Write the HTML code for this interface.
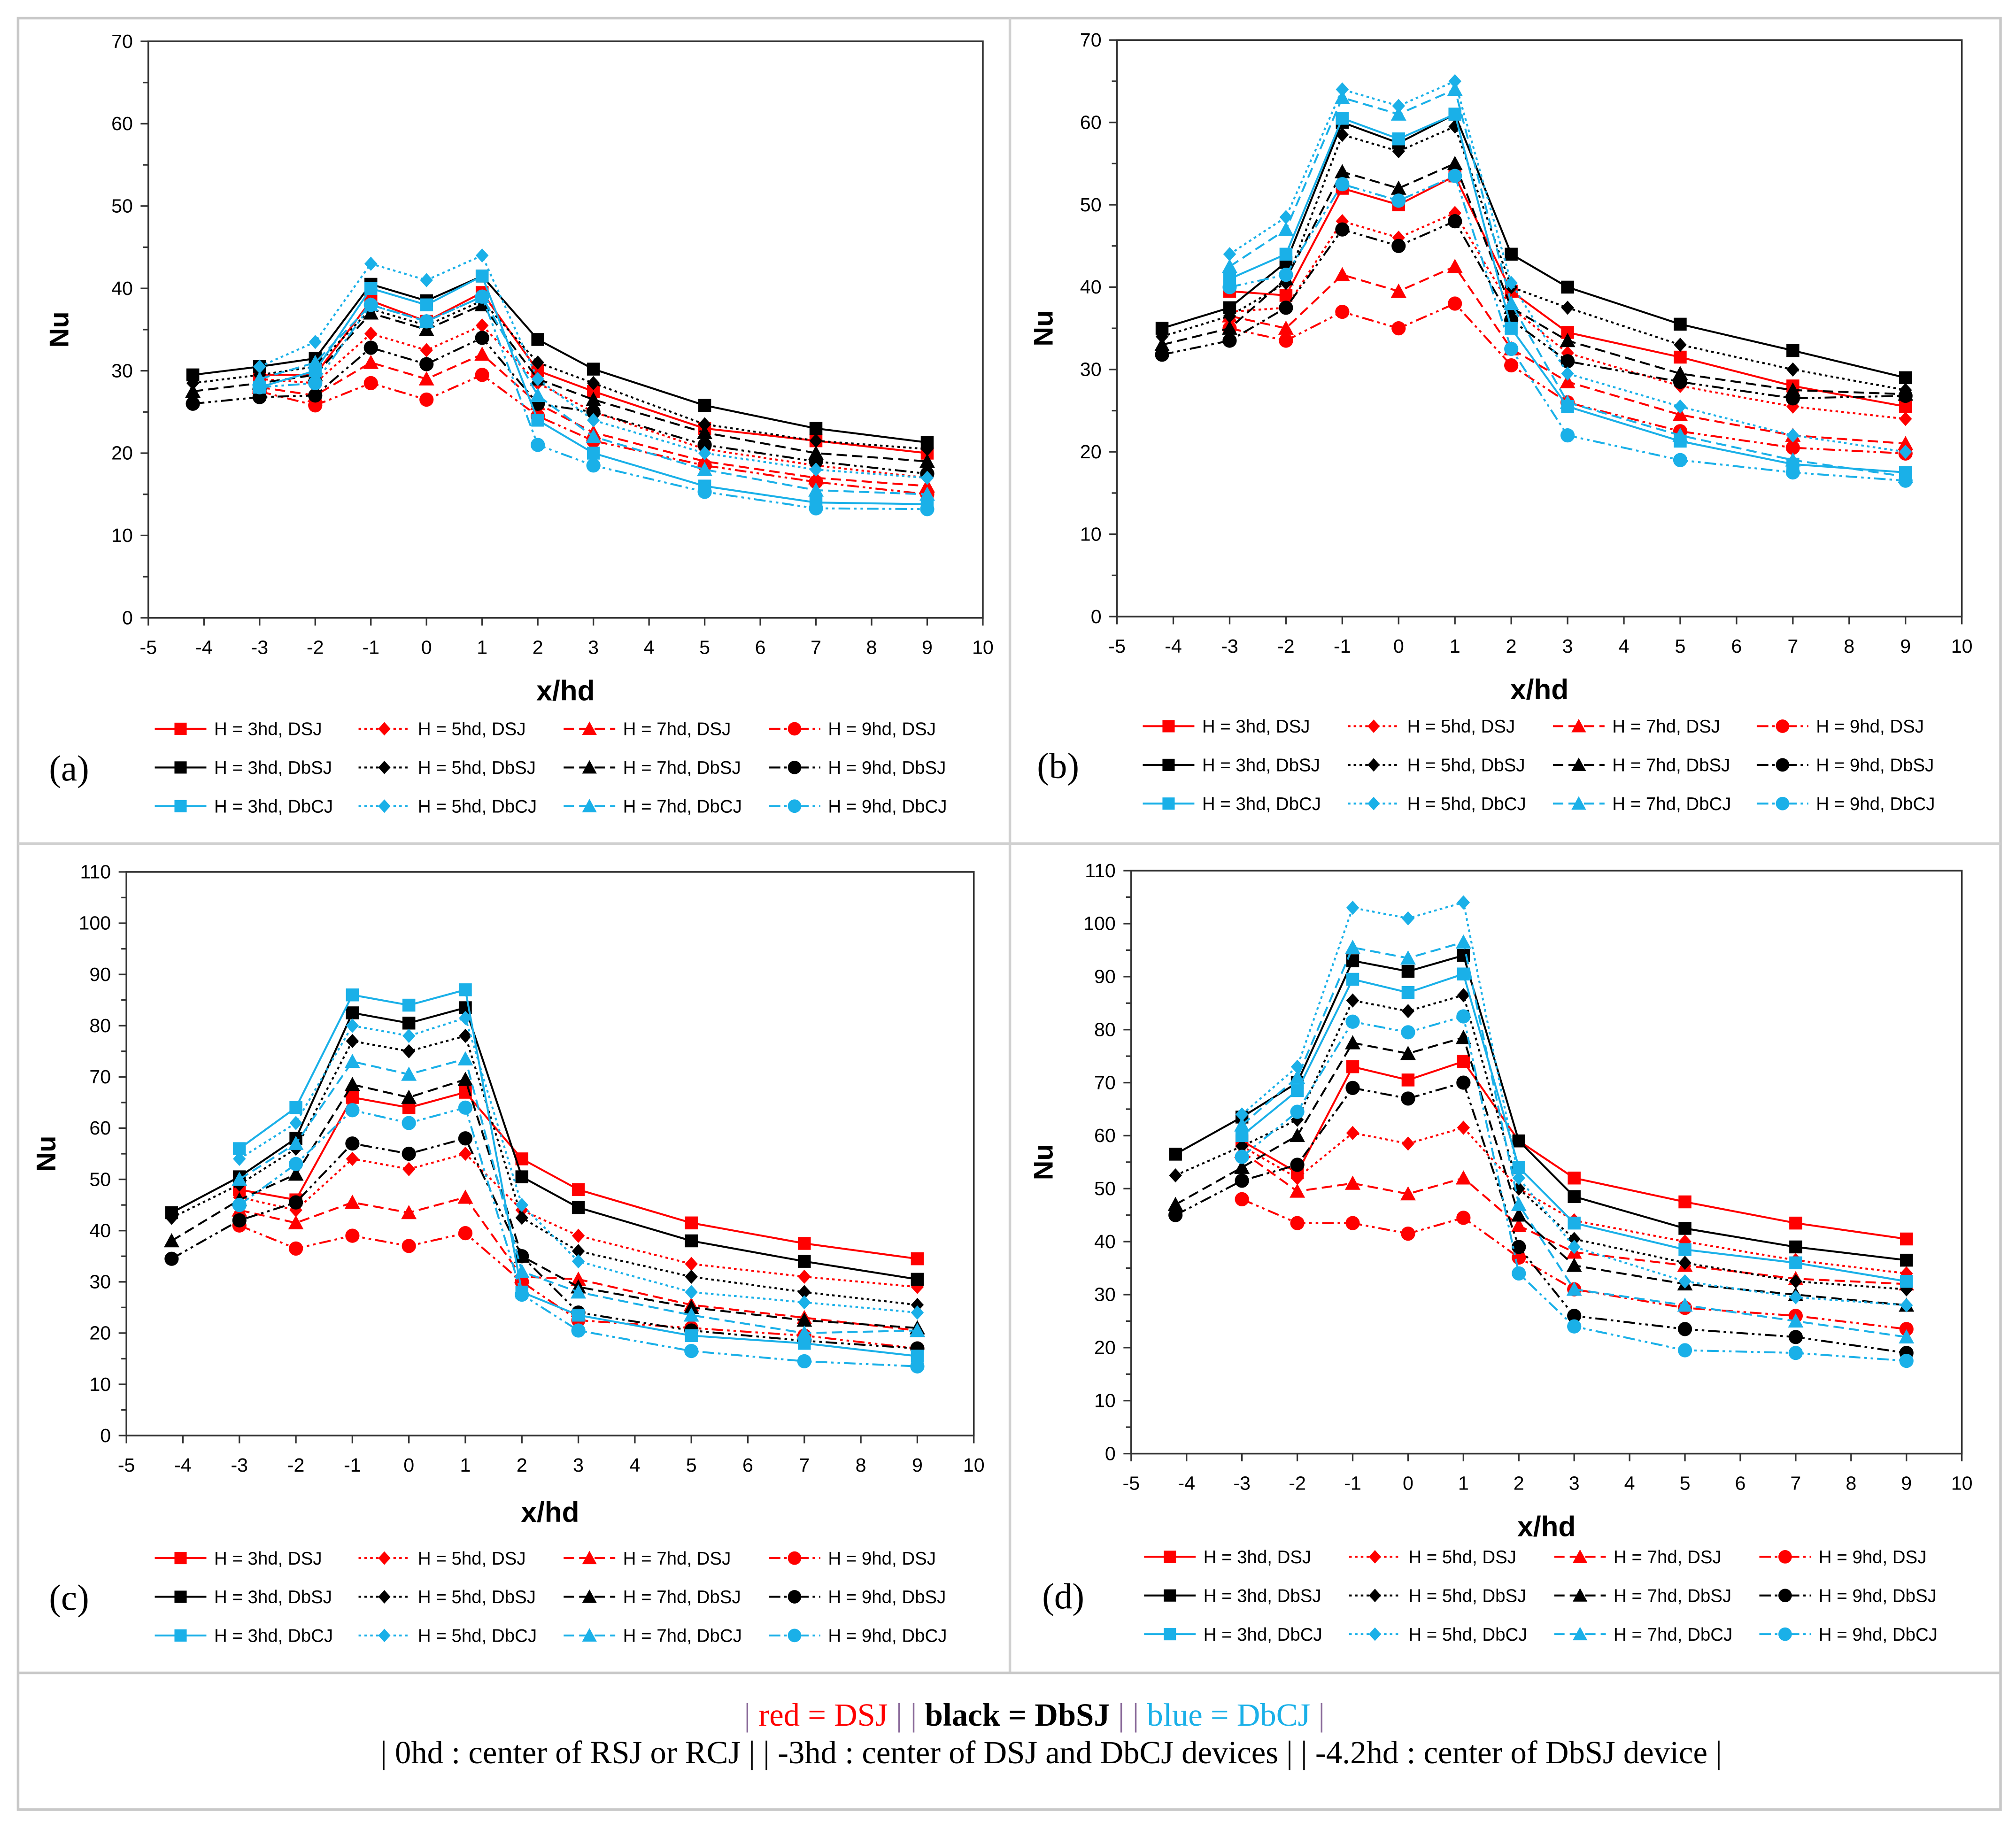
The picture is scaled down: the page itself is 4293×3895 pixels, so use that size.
<!DOCTYPE html>
<html><head><meta charset="utf-8"><style>
html,body{margin:0;padding:0;background:#fff}
svg{display:block}
text{font-family:"Liberation Sans",sans-serif}
.serif{font-family:"Liberation Serif",serif}
</style></head><body>
<svg id="fig" width="4293" height="3895" viewBox="0 0 1563 1418" xmlns="http://www.w3.org/2000/svg">
<rect x="0" y="0" width="1563" height="1418" fill="#fff"/>
<rect x="14" y="14" width="1537" height="1389" fill="none" stroke="#c8c8c8" stroke-width="2"/>
<line x1="783" y1="14" x2="783" y2="1297" stroke="#d0d0d0" stroke-width="2"/>
<line x1="14" y1="654" x2="1551" y2="654" stroke="#d0d0d0" stroke-width="2"/>
<line x1="14" y1="1297" x2="1551" y2="1297" stroke="#c8c8c8" stroke-width="2"/>
<g id="note">
<text class="serif" x="802" y="1338" text-anchor="middle" font-size="25"><tspan fill="#8a6a9a">| </tspan><tspan fill="#ff0000">red = DSJ</tspan><tspan fill="#8a6a9a"> | | </tspan><tspan font-weight="bold" fill="#000">black = DbSJ</tspan><tspan fill="#8a6a9a"> | | </tspan><tspan fill="#1ab0e8">blue = DbCJ</tspan><tspan fill="#8a6a9a"> |</tspan></text>
<text class="serif" x="815" y="1367" text-anchor="middle" font-size="25" fill="#000">| 0hd : center of RSJ or RCJ | | -3hd : center of DSJ and DbCJ devices | | -4.2hd : center of DbSJ device |</text>
</g>
</svg>
<script>
const xsShort=[-3,-2,-1,0,1,2,3,5,7,9];
const xsLong=[-4.2,-3,-2,-1,0,1,2,3,5,7,9];
const seriesNames=["3hd","5hd","7hd","9hd"];
// Panel (a)
const aDSJ=[[29.5,29.5,38.5,36,39.5,30,27.5,23,21.5,20],[29,28.5,34.5,32.5,35.5,28.5,25,20.5,18.5,17],[28,27,31,29,32,26,22.5,19,17,16],[27.5,25.8,28.5,26.5,29.5,24.5,21.5,18.5,16.5,15]];
const aDbSJ=[[29.5,30.5,31.5,40.5,38.5,41.5,33.8,30.2,25.8,23,21.3],[28.5,29.5,30.5,37.5,35.5,38.5,31,28.5,23.5,21.5,20.5],[27.5,28.5,29.5,37,35,38,29,26.5,22.5,20,19],[26,26.8,27,32.8,30.8,34,26,25,21,19,17.5]];
const aDbCJ=[[28,30,40,38,41.5,24,20,16,14,13.8],[30.5,33.5,43,41,44,29,24,20,18,17],[29,31,38,36,39,27,22,18,15.5,15],[28,28.5,38,36,39,21,18.5,15.3,13.3,13.2]];
// Panel (b)
const bDSJ=[[39.5,39,52,50,53.5,39.5,34.5,31.5,28,25.5],[37,37.5,48,46,49,37.5,32,28,25.5,24],[36.5,35,41.5,39.5,42.5,32.5,28.5,24.5,22,21],[35,33.5,37,35,38,30.5,26,22.5,20.5,19.8]];
const bDbSJ=[[35,37.5,43,60,57.5,61,44,40,35.5,32.3,29],[34,36.5,40.5,58.5,56.5,59.5,40,37.5,33,30,27.5],[33,35,41,54,52,55,37.5,33.5,29.5,27.5,27],[31.8,33.5,37.5,47,45,48,36,31,28.5,26.5,26.8]];
const bDbCJ=[[41,44,60.5,58,61,35,25.5,21.3,18.5,17.5],[44,48.5,64,62,65,40.5,29.5,25.5,22,20],[42.5,47,63,61,64,38,26,22,19,17],[40,41.5,52.5,50.5,53.5,32.5,22,19,17.5,16.5]];
// Panel (c)
const cDSJ=[[48,46,66,64,67,54,48,41.5,37.5,34.5],[46.5,44,54,52,55,44,39,33.5,31,29],[44,41.5,45.5,43.5,46.5,31,30.5,25.5,23,20.5],[41,36.5,39,37,39.5,30,22.5,21,19.5,17]];
const cDbSJ=[[43.5,50.5,58,82.5,80.5,83.5,50.5,44.5,38,34,30.5],[42.5,49,56,77,75,78,42.5,36,31,28,25.5],[38,46,51,68.5,66,69.5,35,29,25,22.5,21],[34.5,42,45.5,57,55,58,35,24,20.5,18.5,17]];
const cDbCJ=[[56,64,86,84,87,28,23.5,19.5,18,15.5],[54,61,80,78,81.5,45,34,28,26,24],[50,57,73,70.5,73.5,32,28,23.5,20,20.5],[45,53,63.5,61,64,27.5,20.5,16.5,14.5,13.5]];
// Panel (d)
const dDSJ=[[59,53,73,70.5,74,59,52,47.5,43.5,40.5],[58,52,60.5,58.5,61.5,50,44,40,36.5,34],[57,49.5,51,49,52,43,38,35.5,33,32],[48,43.5,43.5,41.5,44.5,37,31,27.5,26,23.5]];
const dDbSJ=[[56.5,63.5,70,93,91,94,59,48.5,42.5,39,36.5],[52.5,58,63,85.5,83.5,86.5,50,40.5,36,32.5,31],[47,54,60,77.5,75.5,78.5,45,35.5,32,30,28],[45,51.5,54.5,69,67,70,39,26,23.5,22,19]];
const dDbCJ=[[60,68.5,89.5,87,90.5,54,43.5,38.5,36,32.5],[64,73,103,101,104,52,39,32.5,29.5,28],[62,71,95.5,93.5,96.5,47,31,28,25,22],[56,64.5,81.5,79.5,82.5,34,24,19.5,19,17.5]];
const xTicks=[-5,-4,-3,-2,-1,0,1,2,3,4,5,6,7,8,9,10];
const yTicks70=[0,10,20,30,40,50,60,70];
const yTicks110=[0,10,20,30,40,50,60,70,80,90,100,110];

const NS="http://www.w3.org/2000/svg";
const svg=document.getElementById('fig');
const RED="#ff0000",BLK="#000000",BLU="#1ab0e8";
const dashes=["", "2,2.5", "8,4", "9,3,2,3,2,3"];
const markers=["square","diamond","triangle","circle"];
function mk(tag,attrs,parent){const e=document.createElementNS(NS,tag);for(const k in attrs)e.setAttribute(k,attrs[k]);(parent||svg).appendChild(e);return e;}
function marker(g,shape,x,y,c,s){
  s=s||1;
  if(shape==="square")return mk('rect',{x:x-5*s,y:y-5*s,width:10*s,height:10*s,fill:c},g);
  if(shape==="diamond")return mk('polygon',{points:`${x},${y-5.5*s} ${x+5*s},${y} ${x},${y+5.5*s} ${x-5*s},${y}`,fill:c},g);
  if(shape==="triangle")return mk('polygon',{points:`${x},${y-6*s} ${x+6*s},${y+5*s} ${x-6*s},${y+5*s}`,fill:c},g);
  return mk('circle',{cx:x,cy:y,r:5.5*s,fill:c},g);
}
function panel(id,P){
  const g=mk('g',{});
  
  
  const sx=v=>P.x0+(v+5)/15*(P.x1-P.x0);
  const sy=v=>P.y1-v/P.ymax*(P.y1-P.y0);
  const frame=mk('rect',{x:P.x0,y:P.y0,width:P.x1-P.x0,height:P.y1-P.y0,fill:"none",stroke:"#333","stroke-width":1.3},g);
  
  
  const xa=mk('g',{},g);
  
  
  xTicks.forEach(t=>{
    mk('line',{x1:sx(t),y1:P.y1,x2:sx(t),y2:P.y1+6,stroke:"#333","stroke-width":1.2},xa);
    const tx=mk('text',{x:sx(t),y:P.y1+28,"text-anchor":"middle","font-size":15,fill:"#000"},xa);
    tx.textContent=t;
    
    
  });
  const ya=mk('g',{},g);
  
  
  P.yt.forEach((t,i)=>{
    mk('line',{x1:P.x0-6,y1:sy(t),x2:P.x0,y2:sy(t),stroke:"#333","stroke-width":1.2},ya);
    if(i<P.yt.length-1)mk('line',{x1:P.x0-4,y1:sy(t+5),x2:P.x0,y2:sy(t+5),stroke:"#333","stroke-width":1.2},ya);
    const tx=mk('text',{x:P.x0-12,y:sy(t)+5,"text-anchor":"end","font-size":15,fill:"#000"},ya);
    tx.textContent=t;
    
    
  });
  const yt=mk('text',{x:0,y:0,transform:`translate(${P.nuX},${(P.y0+P.y1)/2}) rotate(-90)`,"text-anchor":"middle","font-size":21,"font-weight":"bold"},g);
  yt.textContent="Nu";
  
  
  const xt=mk('text',{x:(P.x0+P.x1)/2,y:P.xtY,"text-anchor":"middle","font-size":22,"font-weight":"bold"},g);
  xt.textContent="x/hd";
  
  
  const groups=[[P.dsj,xsShort,RED,"DSJ"],[P.dbsj,xsLong,BLK,"DbSJ"],[P.dbcj,xsShort,BLU,"DbCJ"]];
  groups.forEach(([data,xs,col,nm])=>{
    data.forEach((vals,k)=>{
      const sg=mk('g',{},g);
      
      
      const pts=vals.map((v,i)=>sx(xs[i])+","+sy(v)).join(" ");
      const pl=mk('polyline',{points:pts,fill:"none",stroke:col,"stroke-width":1.5,"stroke-dasharray":dashes[k]},sg);
      
      
      vals.forEach((v,i)=>{
        const m=marker(sg,markers[k],sx(xs[i]),sy(v),col);
        
        
      });
    });
  });
  const lg=mk('g',{},g);
  
  
  [[RED,"DSJ"],[BLK,"DbSJ"],[BLU,"DbCJ"]].forEach(([col,nm],r)=>{
    for(let k=0;k<4;k++){
      const lx=P.lx[k],ly=P.ly+r*30;
      const e=mk('g',{},lg);
      
      
      mk('line',{x1:lx,y1:ly,x2:lx+40,y2:ly,stroke:col,"stroke-width":1.5,"stroke-dasharray":dashes[k]},e);
      marker(e,markers[k],lx+20,ly,col,0.95);
      const t=mk('text',{x:lx+46,y:ly+5,"font-size":14,fill:"#000"},e);
      t.textContent=`H = ${seriesNames[k].replace('hd','')}hd, ${nm}`;
    }
  });
  const pl=mk('text',{x:P.labX,y:P.ly+40,"font-size":28,"class":"serif"},g);
  pl.textContent="("+id+")";
  
  
}
panel('a',{x0:115,x1:762,y0:32,y1:479,ymax:70,yt:yTicks70,nuX:53,xtY:543,lx:[120,278,437,596],ly:565,labX:38,dsj:aDSJ,dbsj:aDbSJ,dbcj:aDbCJ});
panel('b',{x0:866,x1:1521,y0:31,y1:478,ymax:70,yt:yTicks70,nuX:816,xtY:542,lx:[886,1045,1204,1362],ly:563,labX:804,dsj:bDSJ,dbsj:bDbSJ,dbcj:bDbCJ});
panel('c',{x0:98,x1:755,y0:676,y1:1113,ymax:110,yt:yTicks110,nuX:43,xtY:1180,lx:[120,278,437,596],ly:1208,labX:38,dsj:cDSJ,dbsj:cDbSJ,dbcj:cDbCJ});
panel('d',{x0:877,x1:1521,y0:675,y1:1127,ymax:110,yt:yTicks110,nuX:816,xtY:1191,lx:[887,1046,1205,1364],ly:1207,labX:808,dsj:dDSJ,dbsj:dDbSJ,dbcj:dDbCJ});
</script>
</body></html>
